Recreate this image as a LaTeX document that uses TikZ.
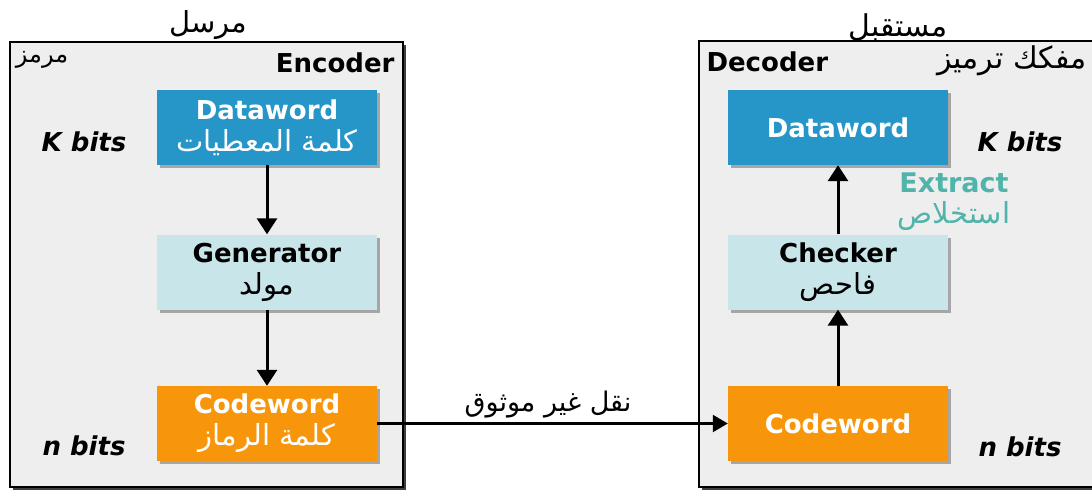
\documentclass[tikz,border=0pt]{standalone}
\usepackage{fontspec}
\setmainfont{DejaVu Sans}
\newfontfamily\arabicfont[Script=Arabic]{DejaVu Sans}
\TeXXeTstate=1
\usetikzlibrary{arrows.meta,shadows}

% Arabic text, set right to left
\newcommand\artext[1]{{\arabicfont\beginR #1\endR}}
% Arabic line inside a block, regular weight, a little larger than the Latin label
\newcommand\arline[1]{{\mdseries\fontsize{29}{33}\selectfont\artext{#1}}}

\definecolor{databox}{RGB}{38,150,200}
\definecolor{genbox}{RGB}{200,230,234}
\definecolor{codebox}{RGB}{247,150,10}
\definecolor{panel}{RGB}{238,238,238}
\definecolor{extractc}{RGB}{80,180,170}

\tikzset{
  panelbox/.style={draw=black, line width=1.4pt, fill=panel, inner sep=0pt,
    drop shadow={shadow xshift=3pt, shadow yshift=-3pt, fill=black!75, opacity=1}},
  block/.style={minimum width=220pt, minimum height=75pt, inner sep=0pt,
    align=center, font=\fontsize{26}{32}\selectfont\bfseries,
    drop shadow={shadow xshift=3pt, shadow yshift=-3pt, fill=gray!70, opacity=1}},
  datablock/.style={block, fill=databox, text=white},
  genblock/.style={block, fill=genbox, text=black},
  codeblock/.style={block, fill=codebox, text=white},
  title/.style={font=\fontsize{26}{30}\selectfont\bfseries},
  bits/.style={font=\fontsize{26}{30}\selectfont\bfseries\itshape},
  heading/.style={font=\fontsize{29}{33}\selectfont},
  flow/.style={line width=3pt, -{Triangle[length=16pt,width=20pt]}},
  channel/.style={line width=2.2pt, -{Triangle[length=15pt,width=17pt]}},
}

\begin{document}
\begin{tikzpicture}[x=1pt,y=-1pt]
  \useasboundingbox (0,0) rectangle (1092,490);
  \clip (0,0) rectangle (1092,490);

  % sender and receiver panels
  \node[panelbox, minimum width=393pt, minimum height=445pt] (enc) at (206.5,264.5) {};
  \node[panelbox, minimum width=410pt, minimum height=446pt] (dec) at (904,264) {};

  \node[heading] (sender) at (208,25) {\artext{مرسل}};
  \node[heading, font=\fontsize{30}{34}\selectfont] (receiver) at (898,27) {\artext{مستقبل}};

  \node[font=\fontsize{24}{28}\selectfont] (encar) at (42,60) {\artext{مرمز}};
  \node[title, anchor=east] (enctitle) at (398,63) {Encoder};
  \node[title, anchor=west] (dectitle) at (703,62) {Decoder};
  \node[heading, font=\fontsize{30}{34}\selectfont, anchor=east] (decar) at (1090,61) {\artext{مفكك ترميز}};

  % encoder blocks
  \node[datablock] (dw1) at (267,127.5) {Dataword\\\arline{كلمة المعطيات}};
  \node[genblock] (gen) at (267,272) {Generator\\\arline{مولد}};
  \node[codeblock] (cw1) at (267,423.5) {Codeword\\\arline{كلمة الرماز}};

  % decoder blocks
  \node[datablock] (dw2) at (838,127.5) {Dataword};
  \node[genblock] (chk) at (838,272) {Checker\\\arline{فاحص}};
  \node[codeblock] (cw2) at (838,423.5) {Codeword};

  % word sizes
  \node[bits] (k1) at (84,142) {K bits};
  \node[bits] (n1) at (84,446) {n bits};
  \node[bits] (k2) at (1020,142) {K bits};
  \node[bits] (n2) at (1020,447) {n bits};

  % extraction step
  \node[font=\fontsize{27}{30}\selectfont\bfseries, text=extractc] (ext) at (954,183) {Extract};
  \node[font=\fontsize{29}{33}\selectfont, text=extractc] (extar) at (954,216) {\artext{استخلاص}};

  % connectors
  \draw[flow] (dw1.south) -- (gen.north);
  \draw[flow] (gen.south) -- (cw1.north);
  \draw[flow] (cw2.north) -- (chk.south);
  \draw[flow] (chk.north) -- (dw2.south);
  \draw[channel] (cw1.east) -- (cw2.west);
  \node[heading, font=\fontsize{27}{31}\selectfont] (chlabel) at (548,405) {\artext{نقل غير موثوق}};
\end{tikzpicture}
\end{document}
